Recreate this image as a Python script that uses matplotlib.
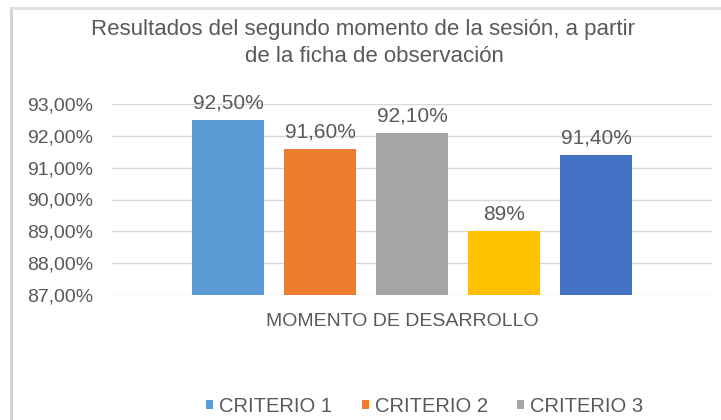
import numpy as np
import matplotlib
matplotlib.use('Agg')
from matplotlib import pyplot as plt
from matplotlib.lines import Line2D
from matplotlib.patches import Patch

plt.rcParams['font.family'] = ['Liberation Sans', 'DejaVu Sans']

# data
criterios = ['CRITERIO 1', 'CRITERIO 2', 'CRITERIO 3', 'CRITERIO 4', 'CRITERIO 5']
valores = [92.5, 91.6, 92.1, 89.0, 91.4]
etiquetas = ['92,50%', '91,60%', '92,10%', '89%', '91,40%']
colores = ['#5B9BD5', '#ED7D31', '#A5A5A5', '#FFC000', '#4472C4']
categoria = 'MOMENTO DE DESARROLLO'
yticks = [87, 88, 89, 90, 91, 92, 93]
ytick_labels = ['87,00%', '88,00%', '89,00%', '90,00%', '91,00%', '92,00%', '93,00%']
titulo = ['Resultados del segundo momento de la sesión, a partir',
          'de la ficha de observación']

txt = '#595959'

fig = plt.figure(figsize=(7.21, 4.20), dpi=100)
ax = fig.add_axes([0.1553, 0.2976, 0.8322, 0.4548])

pos = np.arange(len(valores)) - (len(valores) - 1) / 2
bars = ax.bar(pos, [v - yticks[0] for v in valores], bottom=yticks[0],
              width=0.78, color=colores, zorder=3)

for b, lab in zip(bars, etiquetas):
    ax.annotate(lab, (b.get_x() + b.get_width() / 2, b.get_y() + b.get_height()),
                xytext=(0, 5), textcoords='offset points', ha='center', va='bottom',
                fontsize=15, color=txt)

ax.set_ylim(87, 93)
ax.set_xlim(-3.26, 3.26)
ax.set_yticks(yticks)
ax.set_yticklabels(ytick_labels)
ax.set_xticks([-0.1])
ax.set_xticklabels([categoria])
ax.tick_params(axis='y', length=0, pad=13.5, labelsize=14, labelcolor=txt)
ax.tick_params(axis='x', length=0, pad=13, labelsize=14, labelcolor=txt)
for s in ax.spines.values():
    s.set_visible(False)
ax.grid(axis='y', color='#d9d9d9', linewidth=1, zorder=0)

# title, two lines
fig.text(0.5035, 0.9167, titulo[0], ha='center', va='baseline', fontsize=16, color=txt)
fig.text(0.519, 0.8524, titulo[1], ha='center', va='baseline', fontsize=16, color=txt)

# only the first legend row is visible in the picture
handles = [Patch(facecolor=c, edgecolor='none') for c in colores]
fig.legend(handles[:3], criterios[:3],
           loc='center', bbox_to_anchor=(0.589, 0.033), ncol=3, frameon=False,
           fontsize=14.5, labelcolor=txt, handlelength=0.35, handleheight=0.35,
           handletextpad=0.3, columnspacing=1.45, borderaxespad=0, borderpad=0)

# screenshot border
fig.add_artist(Line2D([0.0153, 0.0153], [0, 0.981], color='#d0d0d0', linewidth=2))
fig.add_artist(Line2D([0.0153, 1], [0.981, 0.981], color='#e0e0e0', linewidth=2))

fig.savefig('out.png', dpi=100)
